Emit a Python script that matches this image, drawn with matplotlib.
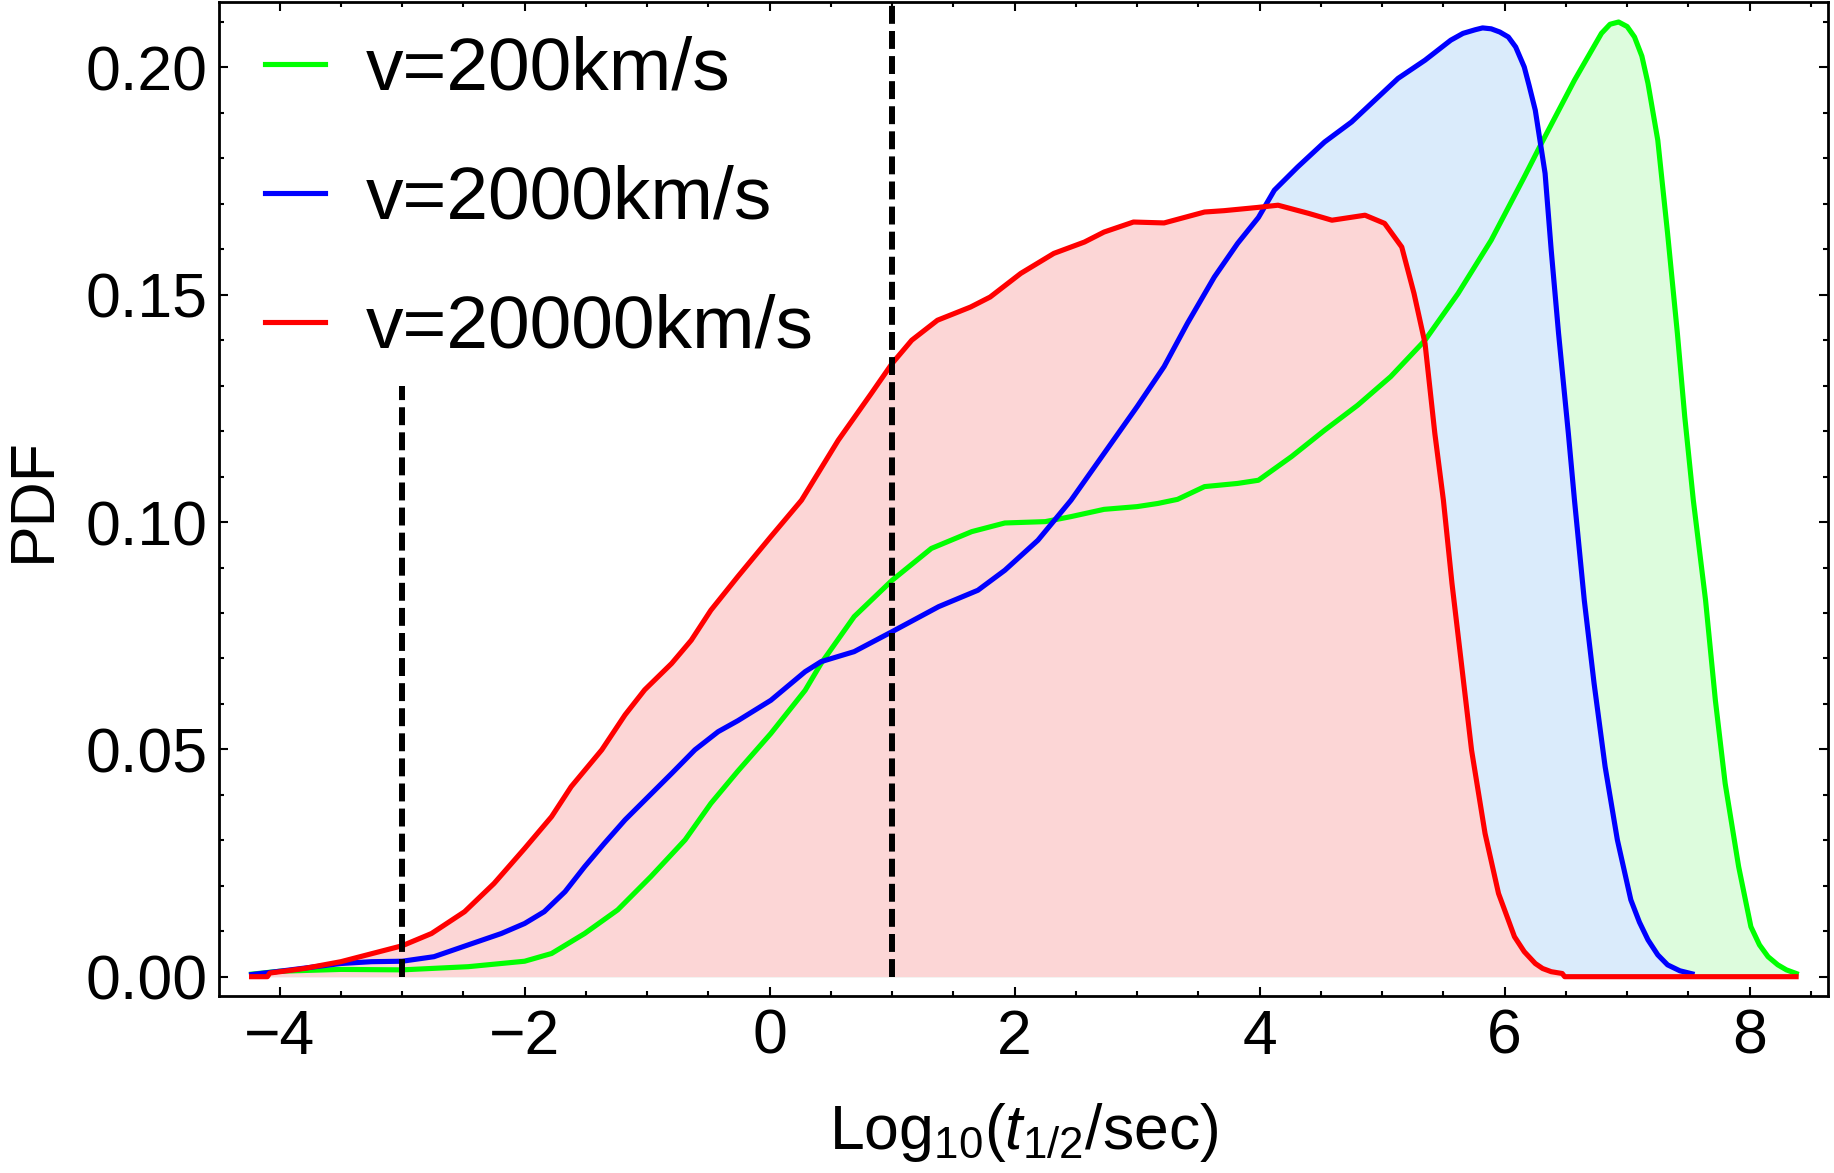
import matplotlib
matplotlib.use("Agg")
import matplotlib.pyplot as plt
from matplotlib.lines import Line2D
from matplotlib.ticker import MultipleLocator

plt.rcParams['font.family'] = ['Liberation Sans', 'DejaVu Sans']
plt.rcParams['mathtext.fontset'] = 'custom'
plt.rcParams['mathtext.rm'] = 'Liberation Sans'
plt.rcParams['mathtext.it'] = 'Liberation Sans:italic'

# data
labels = ['v=200km/s', 'v=2000km/s', 'v=20000km/s']

x_200 = [-4.25, -4.00, -3.50, -3.00, -2.46, -2.00, -1.78, -1.51, -1.24, -0.97,
         -0.69, -0.48, -0.26, 0.01, 0.29, 0.42, 0.69, 1.00, 1.32, 1.65,
         1.92, 2.25, 2.46, 2.73, 3.00, 3.17, 3.33, 3.55, 3.82, 3.99,
         4.26, 4.53, 4.80, 5.07, 5.35, 5.62, 5.89, 6.16, 6.30, 6.57,
         6.79, 6.86, 6.93, 7.00, 7.06, 7.12, 7.17, 7.25, 7.33, 7.41,
         7.47, 7.54, 7.64, 7.72, 7.80, 7.91, 8.01, 8.08, 8.15, 8.23,
         8.30, 8.40]
y_200 = [0.0005, 0.0012, 0.0016, 0.0015, 0.0022, 0.0034, 0.0051, 0.0095, 0.0147, 0.0220,
         0.0301, 0.0381, 0.0452, 0.0535, 0.0630, 0.0689, 0.0792, 0.0872, 0.0942, 0.0979,
         0.0998, 0.1001, 0.1012, 0.1028, 0.1034, 0.1041, 0.1050, 0.1078, 0.1085, 0.1092,
         0.1144, 0.1202, 0.1257, 0.1320, 0.1400, 0.1503, 0.1620, 0.1759, 0.1833, 0.1972,
         0.2075, 0.2095, 0.2100, 0.2090, 0.2067, 0.2025, 0.1965, 0.1840, 0.1635, 0.1415,
         0.1232, 0.1048, 0.0828, 0.0608, 0.0425, 0.0242, 0.0110, 0.0070, 0.0044, 0.0026,
         0.0015, 0.0005]

x_2000 = [-4.25, -4.00, -3.50, -3.25, -3.00, -2.74, -2.46, -2.19, -2.00, -1.84,
          -1.67, -1.51, -1.35, -1.18, -0.99, -0.80, -0.61, -0.42, -0.26, 0.01,
          0.29, 0.42, 0.69, 1.00, 1.38, 1.70, 1.92, 2.19, 2.46, 2.73,
          3.00, 3.22, 3.41, 3.63, 3.82, 3.99, 4.12, 4.31, 4.53, 4.75,
          4.94, 5.13, 5.35, 5.56, 5.66, 5.76, 5.82, 5.89, 5.96, 6.03,
          6.09, 6.16, 6.20, 6.25, 6.33, 6.38, 6.44, 6.52, 6.57, 6.65,
          6.73, 6.82, 6.92, 7.03, 7.10, 7.17, 7.25, 7.33, 7.43, 7.55]
y_2000 = [0.0004, 0.0012, 0.0029, 0.0033, 0.0034, 0.0044, 0.0070, 0.0095, 0.0117, 0.0143,
          0.0187, 0.0242, 0.0293, 0.0345, 0.0396, 0.0447, 0.0499, 0.0539, 0.0563, 0.0608,
          0.0671, 0.0693, 0.0715, 0.0759, 0.0814, 0.0850, 0.0894, 0.0960, 0.1048, 0.1151,
          0.1254, 0.1342, 0.1437, 0.1539, 0.1613, 0.1670, 0.1730, 0.1781, 0.1836, 0.1880,
          0.1928, 0.1976, 0.2016, 0.2060, 0.2075, 0.2083, 0.2087, 0.2085, 0.2078, 0.2067,
          0.2045, 0.2001, 0.1960, 0.1906, 0.1767, 0.1598, 0.1415, 0.1195, 0.1048, 0.0828,
          0.0645, 0.0462, 0.0301, 0.0169, 0.0120, 0.0081, 0.0048, 0.0026, 0.0013, 0.0005]

x_20000 = [-4.25, -4.10, -4.08, -3.80, -3.50, -3.00, -2.76, -2.49, -2.25, -2.00,
           -1.78, -1.62, -1.37, -1.18, -1.02, -0.80, -0.64, -0.48, -0.26, 0.01,
           0.26, 0.56, 0.83, 1.00, 1.16, 1.37, 1.64, 1.80, 2.05, 2.32,
           2.57, 2.73, 2.97, 3.22, 3.55, 3.71, 3.98, 4.15, 4.40, 4.59,
           4.86, 5.02, 5.16, 5.26, 5.35, 5.43, 5.50, 5.57, 5.65, 5.73,
           5.84, 5.95, 6.08, 6.16, 6.25, 6.31, 6.38, 6.47, 6.49, 8.40]
y_20000 = [0.0000, 0.0000, 0.0008, 0.0018, 0.0033, 0.0068, 0.0095, 0.0143, 0.0205, 0.0282,
           0.0352, 0.0418, 0.0499, 0.0576, 0.0631, 0.0689, 0.0740, 0.0806, 0.0880, 0.0968,
           0.1048, 0.1180, 0.1283, 0.1349, 0.1400, 0.1444, 0.1473, 0.1495, 0.1547, 0.1591,
           0.1616, 0.1638, 0.1660, 0.1658, 0.1682, 0.1685, 0.1692, 0.1697, 0.1679, 0.1664,
           0.1675, 0.1657, 0.1605, 0.1503, 0.1393, 0.1195, 0.1048, 0.0865, 0.0682, 0.0498,
           0.0315, 0.0183, 0.0088, 0.0055, 0.0029, 0.0018, 0.0011, 0.0007, 0.0000, 0.0000]

series = [(x_200, y_200), (x_2000, y_2000), (x_20000, y_20000)]
line_colors = ['#00ff00', '#0000ff', '#ff0000']
fill_colors = ['#ddfcdd', '#daebfb', '#fcd6d6']

# dashed markers: (x, y_top)
dash_x = [-3, 1]
dash_top = [0.13, 0.25]

fig = plt.figure(figsize=(18.34, 11.73), dpi=100)
ax = fig.add_axes([0.1192, 0.1505, 0.8775, 0.8478])

for i, (xs, ys) in enumerate(series):
    ax.fill_between(xs, 0, ys, color=fill_colors[i], lw=0, zorder=1 + i)
for i, (xs, ys) in enumerate(series):
    ax.plot(xs, ys, color=line_colors[i], lw=3.7, zorder=5 + i,
            solid_joinstyle='round', solid_capstyle='butt')

for xd, yt in zip(dash_x, dash_top):
    ax.plot([xd, xd], [0, yt], color='black', lw=4.3,
            linestyle=(0, (3, 1.2)), zorder=10)

ax.set_xlim(-4.498, 8.639)
ax.set_ylim(-0.00435, 0.2144)

ax.xaxis.set_major_locator(MultipleLocator(2))
ax.xaxis.set_minor_locator(MultipleLocator(0.5))
ax.yaxis.set_major_locator(MultipleLocator(0.05))
ax.yaxis.set_minor_locator(MultipleLocator(0.01))
ax.yaxis.set_major_formatter(plt.FormatStrFormatter('%.2f'))

ax.tick_params(which='both', direction='in', top=True, right=True,
               width=1.5, labelsize=45)
ax.tick_params(which='major', length=6.5, pad=8)
ax.tick_params(which='minor', length=3.8)
for s in ax.spines.values():
    s.set_linewidth(2.0)

ax.set_xlabel(r'Log$_{10}$($t_{1/2}$/sec)', fontsize=45, labelpad=25)
ax.set_ylabel('PDF', fontsize=45, labelpad=16)

handles = [Line2D([], [], color=c, lw=3.7) for c in line_colors]
ax.legend(handles, labels, loc='upper left', bbox_to_anchor=(0.0286, 0.966),
          borderaxespad=0, borderpad=0, frameon=False, fontsize=54,
          handlelength=0.8, handletextpad=0.55, labelspacing=0.8)

fig.savefig('out.png', dpi=100)
